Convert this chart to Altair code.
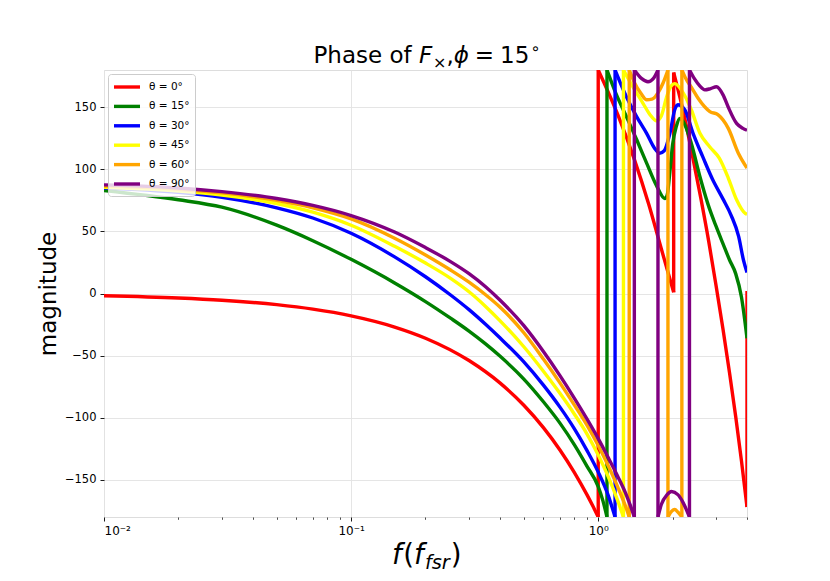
import altair as alt
import pandas as pd

# ---------------- data ----------------
THETA_LABELS = ["θ = 0°", "θ = 15°", "θ = 30°", "θ = 45°", "θ = 60°", "θ = 90°"]
COLORS = ["#ff0000", "#008000", "#0000ff", "#ffff00", "#ffa500", "#800080"]

# A repeated f value marks a phase wrap (vertical jump between -180 and +180).

# theta = 0
f_0 = [0.01, 0.02, 0.03, 0.05, 0.07, 0.1, 0.15, 0.2, 0.3, 0.4, 0.5, 0.6, 0.7, 0.8, 0.9, 0.95, 1.0,
       1.0, 1.2, 1.4, 1.6, 1.8, 2.02,
       2.02, 2.2, 2.4, 2.6, 2.8, 3.0, 3.2, 3.4, 3.6, 3.8, 4.0,
       4.0]
p_0 = [-1.8, -3.6, -5.4, -9, -12.6, -18, -27, -36, -54, -72, -90, -108, -126, -144, -162, -171, -180,
       180, 144, 108, 72, 36, 1,
       178, 148, 112, 77, 42, 6, -29, -64, -99, -135, -172,
       2]

# theta = 15
f_15 = [0.01, 0.02, 0.03, 0.05, 0.07, 0.1, 0.15, 0.2, 0.2535, 0.3, 0.35, 0.4, 0.5, 0.6, 0.7, 0.8, 0.9, 1.0, 1.045, 1.085,
        1.085, 1.18, 1.3, 1.43, 1.57, 1.72, 1.86, 1.9, 1.95, 2.0, 2.07, 2.14, 2.2, 2.38, 2.58, 2.78, 3.0, 3.2,
        3.4, 3.6, 3.8, 4.0]
p_15 = [83, 75.5, 69.5, 55, 42.5, 27.5, 8.5, -6.5, -20.1, -30.3, -40.6, -50.4, -68.9, -87.2, -104.4, -121.7, -139, -155.5, -167, -180,
        180, 161, 142.5, 124, 105, 87, 76.5, 79, 98, 120, 134.5, 141, 139, 121, 94, 72, 54, 40,
        27, 16, -3, -36]

# theta = 30
f_30 = [0.01, 0.02, 0.03, 0.05, 0.07, 0.1, 0.15, 0.2, 0.2535, 0.3, 0.35, 0.4, 0.5, 0.6, 0.7, 0.8, 0.9, 1.0, 1.1, 1.137, 1.17,
        1.17, 1.3, 1.43, 1.57, 1.69, 1.77, 1.85, 1.95, 2.04, 2.1, 2.24, 2.42, 2.65, 2.9, 3.2, 3.45, 3.7, 3.87, 4.0]
p_30 = [85, 81.5, 77.5, 69, 60.8, 48.5, 29.5, 13.5, -1.4, -13, -24.8, -35.7, -55.1, -73.8, -91.5, -108.8, -126.3, -143.8, -163.2, -172, -180,
        180, 158.5, 142.5, 129, 117, 113, 115, 129, 148, 152, 148, 129, 110, 92, 76, 63, 46, 27, 17]

# theta = 45
f_45 = [0.01, 0.02, 0.03, 0.05, 0.07, 0.1, 0.15, 0.2, 0.2535, 0.3, 0.35, 0.4, 0.5, 0.6, 0.7, 0.8, 0.9, 1.0, 1.1, 1.2, 1.265,
        1.265, 1.38, 1.52, 1.62, 1.72, 1.8, 1.89, 1.97, 2.04, 2.2, 2.38, 2.58, 2.83, 3.09, 3.36, 3.63, 3.94, 4.0]
p_45 = [85.5, 82.5, 79.3, 72.5, 65.5, 55, 38, 24.5, 12, 1.4, -10.4, -21.8, -42.9, -62.6, -80.4, -97, -113, -130.1, -147.9, -167, -180,
        180, 166.5, 153, 144, 139, 143, 158, 167, 169, 162, 148, 129, 118, 109, 93, 75.5, 64.5, 64]

# theta = 60
f_60 = [0.01, 0.02, 0.03, 0.05, 0.07, 0.1, 0.15, 0.2, 0.2535, 0.3, 0.35, 0.4, 0.5, 0.6, 0.7, 0.8, 0.9, 1.0, 1.1, 1.2, 1.3, 1.335,
        1.335, 1.4, 1.49, 1.57, 1.65, 1.75, 1.83, 1.915,
        1.915, 1.98, 2.04, 2.1, 2.18,
        2.18, 2.25, 2.4, 2.54, 2.83, 3.05, 3.36, 3.69, 4.0]
p_60 = [86.5, 84, 81, 75, 69, 60.1, 44.5, 31, 18.7, 9.1, -1, -10.9, -31.6, -52.8, -72, -89.7, -106, -122.4, -139.2, -156, -173.3, -180,
        180, 170, 161, 156, 156.5, 162, 169.5, 180,
        -180, -175.5, -174, -176, -180,
        180, 174, 165, 157, 146.5, 144, 133, 113, 101]

# theta = 90
f_90 = [0.01, 0.02, 0.03, 0.05, 0.07, 0.1, 0.15, 0.2, 0.2535, 0.3, 0.35, 0.4, 0.5, 0.6, 0.7, 0.8, 0.9, 1.0, 1.1, 1.2, 1.3, 1.35, 1.40,
        1.40, 1.5, 1.59, 1.67, 1.745,
        1.745, 1.8, 1.9, 1.98, 2.1, 2.2, 2.34,
        2.34, 2.45, 2.58, 2.7, 2.85, 3.01, 3.2, 3.36, 3.63, 3.85, 4.0]
p_90 = [87.5, 85, 82, 76.5, 71, 62.8, 49.5, 37, 25.5, 16, 5.5, -5.2, -25.9, -46.7, -66.1, -84.2, -101, -116.9, -132.5, -147.3, -162.3, -170.9, -180,
        180, 173, 170.5, 173, 180,
        -180, -170, -162, -159.5, -162, -168, -180,
        180, 173, 167, 164, 165, 166.5, 160, 150, 137, 133, 131.5]

MAJOR_TICKS = [0.01, 0.1, 1]
MINOR_TICKS = [0.02, 0.03, 0.04, 0.05, 0.06, 0.07, 0.08, 0.09,
               0.2, 0.3, 0.4, 0.5, 0.6, 0.7, 0.8, 0.9, 2, 3, 4]
Y_TICKS = [-150, -100, -50, 0, 50, 100, 150]

# split each series into smooth pieces and the vertical wrap jumps between them
series = [(f_0, p_0), (f_15, p_15), (f_30, p_30), (f_45, p_45), (f_60, p_60), (f_90, p_90)]
rows = []
for k, (lab, (fs, ps)) in enumerate(zip(THETA_LABELS, series)):
    seg = 0
    n = 0
    for i in range(len(fs)):
        if i > 0 and fs[i] == fs[i - 1]:
            seg += 1
            rows.append({"theta": lab, "f": fs[i - 1], "phase": ps[i - 1], "seg": f"{k}_{seg:02d}", "idx": n}); n += 1
            rows.append({"theta": lab, "f": fs[i], "phase": ps[i], "seg": f"{k}_{seg:02d}", "idx": n}); n += 1
            seg += 1
        rows.append({"theta": lab, "f": fs[i], "phase": ps[i], "seg": f"{k}_{seg:02d}", "idx": n}); n += 1
df = pd.DataFrame(rows)

FONT = "DejaVu Sans"
W, H = 643, 447

xscale = alt.Scale(type="log", domain=[0.01, 4], nice=False)
yscale = alt.Scale(domain=[-180, 180], nice=False, zero=False)

lines = alt.Chart(df).mark_line(strokeWidth=3.4, clip=True, interpolate="monotone").encode(
    x=alt.X("f:Q", scale=xscale,
            axis=alt.Axis(values=MAJOR_TICKS, orient="bottom", title=None,
                          labelExpr="datum.value < 0.05 ? '10⁻²' : (datum.value < 0.5 ? '10⁻¹' : '10⁰')",
                          tickSize=4, tickWidth=0.9, tickColor="black", labelPadding=4,
                          labelFontSize=12, labelColor="black", labelFont=FONT,
                          grid=True, gridColor="#e2e2e2", gridWidth=0.9, domain=False)),
    y=alt.Y("phase:Q", scale=yscale,
            axis=alt.Axis(values=Y_TICKS, title="magnitude", tickSize=4, tickWidth=0.9,
                          tickColor="black", labelPadding=4, labelFontSize=11.5,
                          labelColor="black", labelFont=FONT, grid=True, gridColor="#e2e2e2",
                          gridWidth=0.9, domain=False,
                          titleFont=FONT, titleFontSize=23, titleFontWeight="normal",
                          titleColor="black", titleAngle=270, titleAlign="center",
                          titleBaseline="alphabetic", titleX=-49, titleY=H / 2)),
    color=alt.Color("theta:N", scale=alt.Scale(domain=THETA_LABELS, range=COLORS),
                    legend=alt.Legend(title=None, orient="none", legendX=4, legendY=4,
                                      symbolType="M-1.17,0H3.17", symbolSize=144,
                                      symbolStrokeWidth=3.4, labelFontSize=10.5,
                                      labelFont=FONT, labelColor="black", labelOffset=20,
                                      rowPadding=4.4, padding=5,
                                      fillColor="rgba(255,255,255,0.8)",
                                      strokeColor="#cccccc", cornerRadius=3)),
    detail=alt.Detail("seg:N"),
    order=alt.Order("idx:Q"),
)

minor = alt.Chart(pd.DataFrame({"f": MINOR_TICKS})).mark_point(opacity=0).encode(
    x=alt.X("f:Q", scale=xscale,
            axis=alt.Axis(values=MINOR_TICKS, orient="bottom", title=None, labels=False,
                          tickSize=2.3, tickWidth=0.7, tickColor="black", grid=False,
                          domain=False)),
)

one = alt.Data(values=[{"k": 1}])


def txt(s, x, y, size, italic=False):
    kw = dict(align="left", baseline="alphabetic", fontSize=size, font=FONT, color="black")
    if italic:
        kw["fontStyle"] = "italic"
    return alt.Chart(one).mark_text(**kw).encode(
        x=alt.value(x), y=alt.value(y), text=alt.value(s))


# title: Phase of F_x, phi = 15 deg
TY = -7
title_parts = [
    txt("Phase of", 209.5, TY, 23),
    txt("F", 315, TY, 23, italic=True),
    txt("×", 329, TY + 4.5, 16),
    txt(",", 342.5, TY, 23),
    txt("ϕ", 349.8, TY, 23, italic=True),
    txt("=", 370.8, TY, 23),
    txt("15", 396, TY, 23),
    txt("∘", 426.3, TY - 9, 16),
]

# x label: f(f_fsr)
XY = 494.4
xlabel_parts = [
    txt("f", 288, XY, 27.7, italic=True),
    txt("(", 299.3, XY, 27.7),
    txt("f", 310.1, XY, 27.7, italic=True),
    txt("fsr", 320.9, XY + 5, 19.4, italic=True),
    txt(")", 346.8, XY, 27.7),
]

chart = alt.layer(lines, minor, *title_parts, *xlabel_parts).resolve_axis(
    x="independent"
).properties(
    width=W, height=H,
    autosize=alt.AutoSizeParams(type="none"),
    padding={"left": 96, "top": 62, "right": 75, "bottom": 57},
).configure_view(
    stroke="black", strokeWidth=1
).configure(
    font=FONT
)

chart.save("out.html", embed_options={"renderer": "svg", "actions": False})
